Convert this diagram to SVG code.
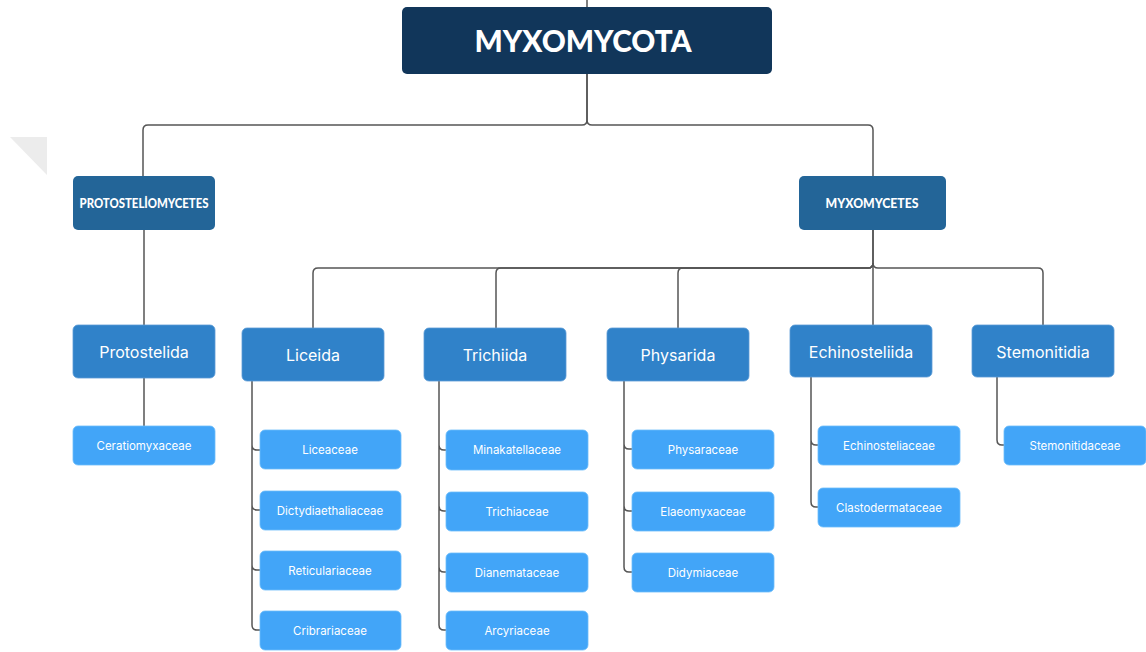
<svg xmlns="http://www.w3.org/2000/svg" width="1146" height="652" viewBox="0 0 1146 652">
<defs>
<style>
.c{fill:none;stroke:#555;stroke-width:1.5}
.r0{fill:#11365a}
.r1{fill:#236598}
.r2{fill:#3082c9;stroke:#5a9bd6;stroke-width:0.8}
.r3{fill:#42a5f8;stroke:#6cbcfa;stroke-width:0.8}
.t0{font-family:Lato,"Open Sans",sans-serif;font-weight:900;font-size:30px;fill:#fff;text-anchor:middle}
.t1{font-family:Lato,"Open Sans",sans-serif;font-weight:900;font-size:13px;fill:#fff;text-anchor:middle}
.t2{font-family:Inter,Roboto,sans-serif;font-size:16px;fill:#fff;text-anchor:middle}
.t3{font-family:Inter,Roboto,sans-serif;font-size:11.5px;fill:#fff;text-anchor:middle}
</style>
</defs>
<rect width="1146" height="652" fill="#fff"/>
<polygon points="10,137 47,137 47,175" fill="#ececec"/>
<g id="connectors">
<path class="c" d="M587,0 V7"/>
<path class="c" d="M587,74 V120 Q587,125 582,125 H148 Q143,125 143,130 V176"/>
<path class="c" d="M587,74 V120 Q587,125 592,125 H868 Q873,125 873,130 V176"/>
<path class="c" d="M144,230 V325"/>
<path class="c" d="M144,378 V426"/>
<path class="c" d="M873,230 V263 Q873,268 868,268 H318 Q313,268 313,273 V328"/>
<path class="c" d="M873,263 Q873,268 868,268 H501 Q496,268 496,273 V328"/>
<path class="c" d="M873,263 Q873,268 868,268 H683 Q678,268 678,273 V328"/>
<path class="c" d="M873,230 V325"/>
<path class="c" d="M873,263 Q873,268 878,268 H1038 Q1043,268 1043,273 V325"/>
<path class="c" d="M252,381 V445 Q252,450 257,450 H260 M252,445 V505 Q252,510 257,510 H260 M252,505 V565 Q252,570 257,570 H260 M252,565 V625 Q252,630 257,630 H260"/>
<path class="c" d="M439,381 V445 Q439,450 444,450 H446 M439,445 V506 Q439,511 444,511 H446 M439,506 V567 Q439,572 444,572 H446 M439,567 V625 Q439,630 444,630 H446"/>
<path class="c" d="M624,381 V444 Q624,449 629,449 H632 M624,444 V506 Q624,511 629,511 H632 M624,506 V567 Q624,572 629,572 H632"/>
<path class="c" d="M811,377 V440 Q811,445 816,445 H818 M811,440 V502 Q811,507 816,507 H818"/>
<path class="c" d="M997,377 V440 Q997,445 1002,445 H1004"/>
</g>
<g id="myxomycota"><rect class="r0" x="402" y="7" width="370" height="67" rx="5"/><text class="t0" x="583" y="52" textLength="217" lengthAdjust="spacingAndGlyphs">MYXOMYCOTA</text></g>
<g id="protosteliomycetes"><rect class="r1" x="73" y="176" width="142" height="54" rx="5"/><text class="t1" x="144" y="208" textLength="129" lengthAdjust="spacingAndGlyphs">PROTOSTELİOMYCETES</text></g>
<g id="myxomycetes"><rect class="r1" x="799" y="176" width="147" height="54" rx="5"/><text class="t1" x="872" y="208" textLength="93" lengthAdjust="spacingAndGlyphs">MYXOMYCETES</text></g>
<g id="protostelida"><rect class="r2" x="73" y="325" width="142" height="53" rx="5"/><text class="t2" x="144" y="358">Protostelida</text></g>
<g id="ceratiomyxaceae"><rect class="r3" x="73" y="426" width="142" height="39" rx="5"/><text class="t3" x="144" y="450">Ceratiomyxaceae</text></g>
<g id="liceida"><rect class="r2" x="242" y="328" width="142" height="53" rx="5"/><text class="t2" x="313" y="361">Liceida</text></g>
<g id="trichiida"><rect class="r2" x="424" y="328" width="142" height="53" rx="5"/><text class="t2" x="495" y="361">Trichiida</text></g>
<g id="physarida"><rect class="r2" x="607" y="328" width="142" height="53" rx="5"/><text class="t2" x="678" y="361">Physarida</text></g>
<g id="echinosteliida"><rect class="r2" x="790" y="325" width="142" height="52" rx="5"/><text class="t2" x="861" y="358">Echinosteliida</text></g>
<g id="stemonitidia"><rect class="r2" x="972" y="325" width="142" height="52" rx="5"/><text class="t2" x="1043" y="358">Stemonitidia</text></g>
<g id="liceaceae"><rect class="r3" x="260" y="430" width="141" height="39" rx="5"/><text class="t3" x="330" y="454">Liceaceae</text></g>
<g id="dictydiaethaliaceae"><rect class="r3" x="260" y="491" width="141" height="39" rx="5"/><text class="t3" x="330" y="515">Dictydiaethaliaceae</text></g>
<g id="reticulariaceae"><rect class="r3" x="260" y="551" width="141" height="39" rx="5"/><text class="t3" x="330" y="575">Reticulariaceae</text></g>
<g id="cribrariaceae"><rect class="r3" x="260" y="611" width="141" height="39" rx="5"/><text class="t3" x="330" y="635">Cribrariaceae</text></g>
<g id="minakatellaceae"><rect class="r3" x="446" y="430" width="142" height="40" rx="5"/><text class="t3" x="517" y="454">Minakatellaceae</text></g>
<g id="trichiaceae"><rect class="r3" x="446" y="492" width="142" height="39" rx="5"/><text class="t3" x="517" y="516">Trichiaceae</text></g>
<g id="dianemataceae"><rect class="r3" x="446" y="553" width="142" height="39" rx="5"/><text class="t3" x="517" y="577">Dianemataceae</text></g>
<g id="arcyriaceae"><rect class="r3" x="446" y="611" width="142" height="39" rx="5"/><text class="t3" x="517" y="635">Arcyriaceae</text></g>
<g id="physaraceae"><rect class="r3" x="632" y="430" width="142" height="39" rx="5"/><text class="t3" x="703" y="454">Physaraceae</text></g>
<g id="elaeomyxaceae"><rect class="r3" x="632" y="492" width="142" height="39" rx="5"/><text class="t3" x="703" y="516">Elaeomyxaceae</text></g>
<g id="didymiaceae"><rect class="r3" x="632" y="553" width="142" height="39" rx="5"/><text class="t3" x="703" y="577">Didymiaceae</text></g>
<g id="echinosteliaceae"><rect class="r3" x="818" y="426" width="142" height="39" rx="5"/><text class="t3" x="889" y="450">Echinosteliaceae</text></g>
<g id="clastodermataceae"><rect class="r3" x="818" y="488" width="142" height="39" rx="5"/><text class="t3" x="889" y="512">Clastodermataceae</text></g>
<g id="stemonitidaceae"><rect class="r3" x="1004" y="426" width="142" height="39" rx="5"/><text class="t3" x="1075" y="450">Stemonitidaceae</text></g>
</svg>
